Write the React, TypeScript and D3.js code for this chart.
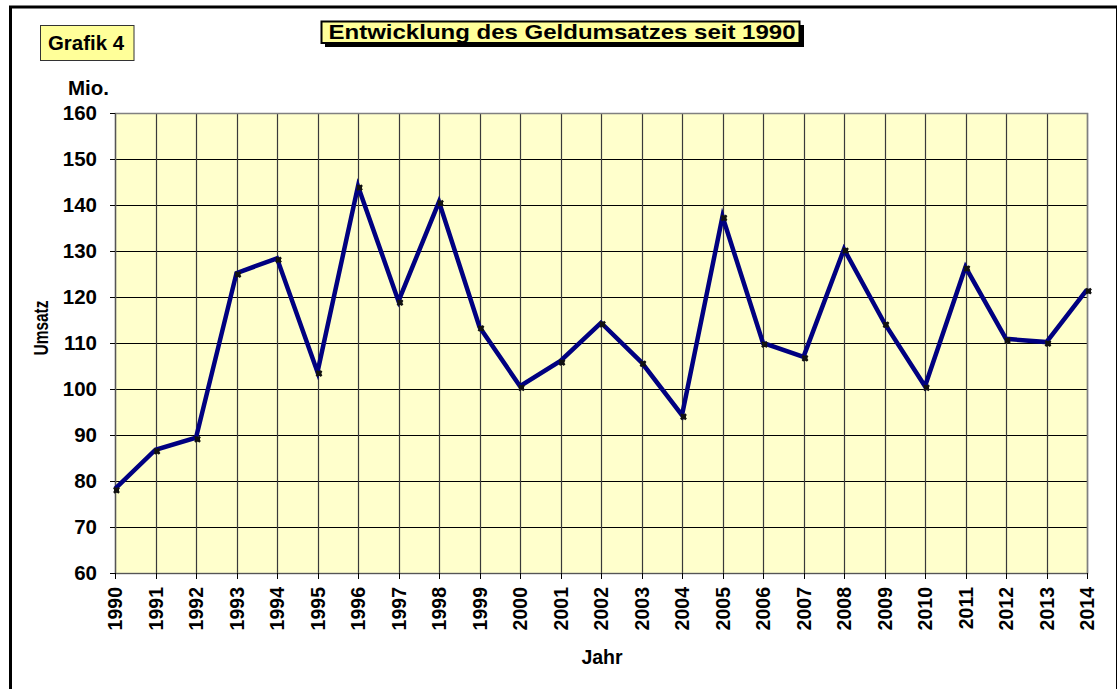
import React, { useEffect, useRef } from "react";
import * as d3 from "d3";

const years = [
  "1990", "1991", "1992", "1993", "1994", "1995", "1996", "1997", "1998",
  "1999", "2000", "2001", "2002", "2003", "2004", "2005", "2006", "2007",
  "2008", "2009", "2010", "2011", "2012", "2013", "2014",
];
const umsatz = [
  78.3, 86.8, 89.4, 125.2, 128.4, 103.7, 144.1, 119.1, 140.7, 113.5, 100.6,
  106.1, 114.4, 105.8, 94.3, 137.5, 110.0, 107.0, 130.4, 114.3, 100.6, 126.5,
  110.9, 110.2, 121.6,
];
const yTicks = [60, 70, 80, 90, 100, 110, 120, 130, 140, 150, 160];
const title = "Entwicklung des Geldumsatzes seit 1990";

const App = () => {
  const ref = useRef(null);

  useEffect(() => {
    const width = 1117;
    const height = 689;
    const left = 115;
    const right = 1087;
    const top = 113;
    const bottom = 573;
    const font = "'Liberation Sans', Arial, sans-serif";

    d3.select(ref.current).selectAll("*").remove();
    const svg = d3
      .select(ref.current)
      .append("svg")
      .attr("width", width)
      .attr("height", height)
      .style("position", "absolute")
      .style("left", "0px")
      .style("top", "0px")
      .style("font-family", font);

    svg.append("rect").attr("width", width).attr("height", height).attr("fill", "#fff");

    // outer frame
    svg
      .append("rect")
      .attr("x", 10.5)
      .attr("y", 7)
      .attr("width", 1107)
      .attr("height", 720)
      .attr("fill", "none")
      .attr("stroke", "#000")
      .attr("stroke-width", 3);

    const x = d3.scalePoint().domain(years).range([left, right]);
    const y = d3.scaleLinear().domain([60, 160]).range([bottom, top]);

    // plot area
    svg
      .append("rect")
      .attr("x", left)
      .attr("y", top)
      .attr("width", right - left)
      .attr("height", bottom - top)
      .attr("fill", "#FFFFCC");

    // horizontal gridlines
    svg
      .append("g")
      .selectAll("line")
      .data(yTicks)
      .enter()
      .append("line")
      .attr("x1", left)
      .attr("x2", right)
      .attr("y1", (d) => Math.round(y(d)) + 0.5)
      .attr("y2", (d) => Math.round(y(d)) + 0.5)
      .attr("stroke", "#000")
      .attr("stroke-width", 1.2);

    // vertical gridlines
    svg
      .append("g")
      .selectAll("line")
      .data(years)
      .enter()
      .append("line")
      .attr("x1", (d) => Math.round(x(d)!) + 0.5)
      .attr("x2", (d) => Math.round(x(d)!) + 0.5)
      .attr("y1", top)
      .attr("y2", bottom)
      .attr("stroke", "#3a3a3a")
      .attr("stroke-width", 1.2);

    // plot border
    svg
      .append("rect")
      .attr("x", left + 0.5)
      .attr("y", top + 0.5)
      .attr("width", right - left)
      .attr("height", bottom - top)
      .attr("fill", "none")
      .attr("stroke", "#808080")
      .attr("stroke-width", 1.5);

    // y axis
    const yAxis = svg.append("g");
    yAxis
      .append("line")
      .attr("x1", left + 0.5)
      .attr("x2", left + 0.5)
      .attr("y1", top)
      .attr("y2", bottom)
      .attr("stroke", "#555");
    yAxis
      .selectAll("line.tick")
      .data(yTicks)
      .enter()
      .append("line")
      .attr("class", "tick")
      .attr("x1", left - 5)
      .attr("x2", left)
      .attr("y1", (d) => Math.round(y(d)) + 0.5)
      .attr("y2", (d) => Math.round(y(d)) + 0.5)
      .attr("stroke", "#000");
    yAxis
      .selectAll("text")
      .data(yTicks)
      .enter()
      .append("text")
      .attr("x", 97)
      .attr("y", (d) => y(d))
      .attr("dy", "0.36em")
      .attr("text-anchor", "end")
      .style("font-size", "20.5px")
      .style("font-weight", "bold")
      .text((d) => d);

    // x axis
    const xAxis = svg.append("g");
    xAxis
      .append("line")
      .attr("x1", left)
      .attr("x2", right)
      .attr("y1", bottom + 0.5)
      .attr("y2", bottom + 0.5)
      .attr("stroke", "#555");
    xAxis
      .selectAll("line.tick")
      .data(years)
      .enter()
      .append("line")
      .attr("class", "tick")
      .attr("x1", (d) => Math.round(x(d)!) + 0.5)
      .attr("x2", (d) => Math.round(x(d)!) + 0.5)
      .attr("y1", bottom)
      .attr("y2", bottom + 6)
      .attr("stroke", "#000");
    xAxis
      .selectAll("text")
      .data(years)
      .enter()
      .append("text")
      .attr("transform", (d) => `translate(${x(d)},587) rotate(-90)`)
      .attr("dy", "0.36em")
      .attr("text-anchor", "end")
      .style("font-size", "19.5px")
      .style("font-weight", "bold")
      .text((d) => d);

    // series line
    const line = d3
      .line<number>()
      .x((d, i) => x(years[i])!)
      .y((d) => y(d));

    svg
      .append("path")
      .datum(umsatz)
      .attr("d", line)
      .attr("fill", "none")
      .attr("stroke", "#000080")
      .attr("stroke-width", 4.5)
      .attr("stroke-linejoin", "miter");

    // markers
    const markers = svg.append("g");
    markers
      .selectAll("path")
      .data(umsatz)
      .enter()
      .append("path")
      .attr("transform", (d, i) => `translate(${x(years[i])! + 1.5},${y(d) + 1.5}) rotate(45)`)
      .attr("d", d3.symbol().type(d3.symbolCross).size(30)())
      .attr("fill", "#1a1a1a");
    markers
      .selectAll("rect")
      .data(umsatz)
      .enter()
      .append("rect")
      .attr("x", (d, i) => x(years[i])! - 1)
      .attr("y", (d) => y(d) - 1)
      .attr("width", 5)
      .attr("height", 5)
      .attr("fill", "#111");

    // axis titles
    svg
      .append("text")
      .attr("x", 68)
      .attr("y", 94.5)
      .style("font-size", "20px")
      .style("font-weight", "bold")
      .attr("textLength", 41)
      .attr("lengthAdjust", "spacingAndGlyphs")
      .text("Mio.");

    svg
      .append("text")
      .attr("transform", "translate(41,328) rotate(-90)")
      .attr("dy", "0.36em")
      .attr("text-anchor", "middle")
      .style("font-size", "20px")
      .style("font-weight", "bold")
      .attr("textLength", 55)
      .attr("lengthAdjust", "spacingAndGlyphs")
      .text("Umsatz");

    svg
      .append("text")
      .attr("x", 602)
      .attr("y", 663.5)
      .attr("text-anchor", "middle")
      .style("font-size", "19.5px")
      .style("font-weight", "bold")
      .text("Jahr");

    // "Grafik 4" label
    svg
      .append("rect")
      .attr("x", 40.5)
      .attr("y", 25.5)
      .attr("width", 93.5)
      .attr("height", 35)
      .attr("fill", "#FFFF99")
      .attr("stroke", "#333")
      .attr("stroke-width", 1);
    svg
      .append("text")
      .attr("x", 48)
      .attr("y", 49.5)
      .style("font-size", "20px")
      .style("font-weight", "bold")
      .attr("textLength", 76)
      .attr("lengthAdjust", "spacingAndGlyphs")
      .text("Grafik 4");

    // title box with shadow
    svg
      .append("rect")
      .attr("x", 325)
      .attr("y", 25)
      .attr("width", 479)
      .attr("height", 22)
      .attr("fill", "#000");
    svg
      .append("rect")
      .attr("x", 321.5)
      .attr("y", 21.5)
      .attr("width", 478)
      .attr("height", 21.5)
      .attr("fill", "#FFFF99")
      .attr("stroke", "#000")
      .attr("stroke-width", 2);
    svg
      .append("text")
      .attr("x", 328.5)
      .attr("y", 39)
      .style("font-size", "21px")
      .style("font-weight", "bold")
      .attr("textLength", 467)
      .attr("lengthAdjust", "spacingAndGlyphs")
      .text(title);
  }, []);

  return <div ref={ref}></div>;
};

export default App;
